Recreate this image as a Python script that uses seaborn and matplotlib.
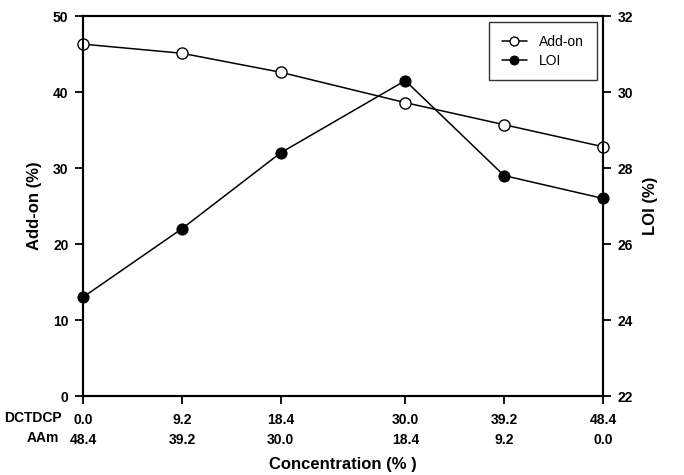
import matplotlib
matplotlib.use("Agg")
import matplotlib.pyplot as plt
import seaborn as sns

# Data
dctdcp = [0.0, 9.2, 18.4, 30.0, 39.2, 48.4]
aam = [48.4, 39.2, 30.0, 18.4, 9.2, 0.0]
add_on = [46.3, 45.1, 42.6, 38.6, 35.7, 32.8]
loi = [24.6, 26.4, 28.4, 30.3, 27.8, 27.2]

sns.set_style("ticks")
plt.rcParams["font.family"] = ["Liberation Sans", "DejaVu Sans"]
plt.rcParams["text.color"] = "black"
plt.rcParams["axes.labelcolor"] = "black"

fig = plt.figure(figsize=(6.84, 4.75), dpi=100)
ax = fig.add_axes([0.1213, 0.1663, 0.7602, 0.8000])
ax2 = ax.twinx()

sns.lineplot(x=dctdcp, y=add_on, ax=ax, color="black", marker="o",
             markerfacecolor="white", markeredgecolor="black",
             markeredgewidth=1.0, markersize=8, linewidth=1.1,
             label="Add-on", legend=False, zorder=5, clip_on=False)
sns.lineplot(x=dctdcp, y=loi, ax=ax2, color="black", marker="o",
             markerfacecolor="black", markeredgecolor="black",
             markersize=8, linewidth=1.1, label="LOI", legend=False,
             zorder=5, clip_on=False)

ax.set_xlim(0, 48.4)
ax.set_ylim(0, 50)
ax2.set_ylim(22, 32)
ax.set_yticks([0, 10, 20, 30, 40, 50])
ax2.set_yticks([22, 24, 26, 28, 30, 32])

tick_font = dict(fontweight="bold", fontsize=10, color="black")
ax.set_xticks(dctdcp)
ax.set_xticklabels([f"{d:.1f}\n{a:.1f}" for d, a in zip(dctdcp, aam)],
                   linespacing=1.5, **tick_font)
ax.set_yticklabels([str(v) for v in [0, 10, 20, 30, 40, 50]], **tick_font)
ax2.set_yticklabels([str(v) for v in [22, 24, 26, 28, 30, 32]], **tick_font)

for a in (ax, ax2):
    for s in a.spines.values():
        s.set_linewidth(1.5)
        s.set_color("black")
    a.tick_params(direction="out", length=6, width=1.3, color="black", pad=4.5)
ax.tick_params(axis="x", pad=6.5)

# Row labels for the two concentration rows
fig.text(62 / 684, 1 - 418 / 475, "DCTDCP", ha="right", va="center",
         **tick_font)
fig.text(59 / 684, 1 - 438 / 475, "AAm", ha="right", va="center",
         **tick_font)

ax.set_ylabel("Add-on (%)", fontsize=12, fontweight="bold", labelpad=8)
ax2.set_ylabel("LOI (%)", fontsize=12, fontweight="bold", labelpad=7)
ax.set_xlabel("Concentration (% )", fontsize=12, fontweight="bold", labelpad=7)

h1, l1 = ax.get_legend_handles_labels()
h2, l2 = ax2.get_legend_handles_labels()
leg = ax2.legend(h1 + h2, l1 + l2, loc="upper right",
                 bbox_to_anchor=(1.0, 1.0), frameon=True, fancybox=False,
                 edgecolor="black", fontsize=10, handlelength=1.8,
                 handletextpad=0.9, markerscale=0.8, borderpad=0.9,
                 labelspacing=0.35, borderaxespad=0.45)
leg.get_frame().set_linewidth(1.0)

fig.savefig("out.png", dpi=100)
